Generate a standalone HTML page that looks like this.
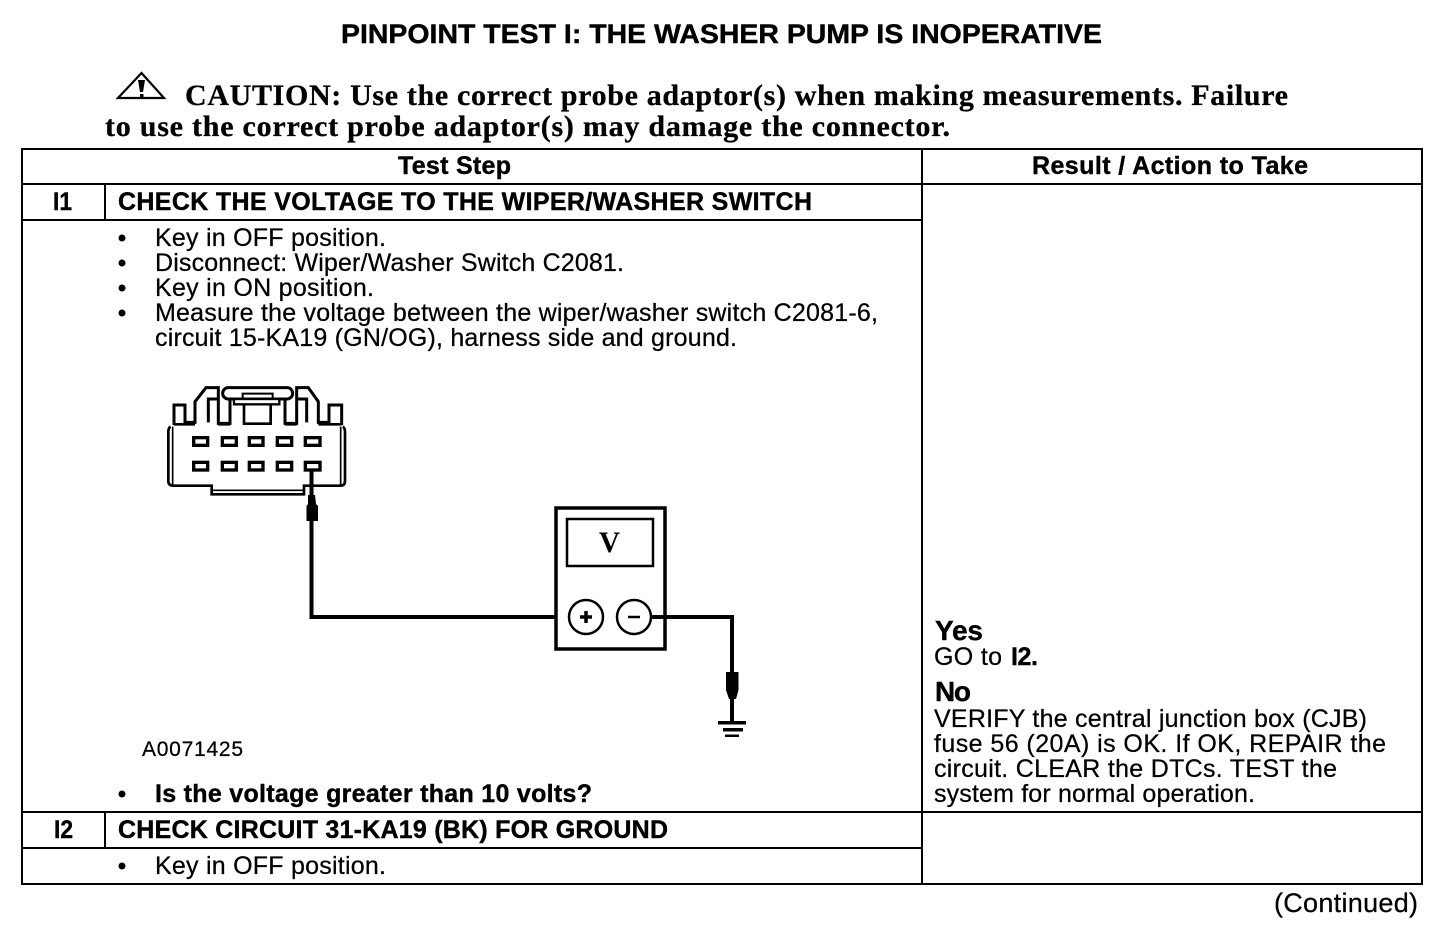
<!DOCTYPE html>
<html><head><meta charset="utf-8"><style>
html,body{margin:0;padding:0;background:#fff}
svg{display:block}
text{font-family:"Liberation Sans",sans-serif;font-size:25px;fill:#000;stroke:#000;stroke-width:.25px}
.b{font-weight:bold;stroke-width:.4px}
.s{font-family:"Liberation Serif",serif;font-weight:bold;font-size:30px;stroke-width:.3px}
</style></head><body>
<svg width="1456" height="936" viewBox="0 0 1456 936" xmlns="http://www.w3.org/2000/svg">
<rect width="1456" height="936" fill="#fff"/>
<text class="b" x="341" y="43" style="font-size:27px" textLength="761" lengthAdjust="spacingAndGlyphs">PINPOINT TEST I: THE WASHER PUMP IS INOPERATIVE</text>
<g fill="none" stroke="#000" stroke-width="2.200"><path d="M118 98L141.500 73L164 98Z"/></g>
<path d="M138 80H145L143 92H140ZM140 94h3.500v4.500H140Z" fill="#000"/>
<text class="s" x="185" y="105" textLength="1103" lengthAdjust="spacing">CAUTION: Use the correct probe adaptor(s) when making measurements. Failure</text>
<text class="s" x="105" y="136" textLength="845" lengthAdjust="spacing">to use the correct probe adaptor(s) may damage the connector.</text>

<g stroke="#000" stroke-width="2" fill="none" shape-rendering="crispEdges">
<rect x="22" y="149" width="1400" height="735"/>
<path d="M922 149V884M22 184H1422M22 220H922M22 812H1422M22 848H922M105 184V220M105 812V848"/>
</g>

<text x="398" y="174" class="b" textLength="113" lengthAdjust="spacing">Test Step</text>
<text x="1032" y="174" class="b" textLength="276" lengthAdjust="spacing">Result / Action to Take</text>
<text x="53" y="210" class="b" textLength="19" lengthAdjust="spacingAndGlyphs">I1</text>
<text x="118" y="210" class="b" textLength="694" lengthAdjust="spacing">CHECK THE VOLTAGE TO THE WIPER/WASHER SWITCH</text>

<g fill="#000">
<circle cx="122" cy="238" r="3.500"/><circle cx="122" cy="263" r="3.500"/><circle cx="122" cy="288" r="3.500"/><circle cx="122" cy="313" r="3.500"/><circle cx="122" cy="794" r="3.500"/><circle cx="122" cy="866" r="3.500"/>
</g>
<text x="155" y="246" textLength="231" lengthAdjust="spacing">Key in OFF position.</text>
<text x="155" y="271" textLength="469" lengthAdjust="spacing">Disconnect: Wiper/Washer Switch C2081.</text>
<text x="155" y="296" textLength="219" lengthAdjust="spacing">Key in ON position.</text>
<text x="155" y="321" textLength="723" lengthAdjust="spacing">Measure the voltage between the wiper/washer switch C2081-6,</text>
<text x="155" y="346" textLength="582" lengthAdjust="spacing">circuit 15-KA19 (GN/OG), harness side and ground.</text>

<g transform="translate(150 375) scale(.33333)" fill="none" stroke="#000" stroke-width="9" stroke-linejoin="miter">
<path d="M72 150V90H105V142H135V80L168 38H205V145H240V72M175 142V72H205"/>
<rect x="218" y="38" width="210" height="34" rx="17"/>
<rect x="252" y="72" width="136" height="16" fill="#fff" stroke-width="7"/>
<path d="M278 72V56H368V72" stroke-width="6"/>
<path d="M282 88V146H362V88" stroke-width="8"/>
<path d="M405 72V145H440V38H475L505 80V142H537V90H575V150M440 72H470V142"/>
<path d="M72 148H135M205 148H240M405 148H440M505 148H575" stroke-width="8"/>
<path d="M62 155Q55 158 55 170V318Q55 332 70 332H185V358H462V332H572Q585 332 585 318V170Q585 158 578 155" stroke-width="8"/>
<path d="M68 155V330M572 155V330M188 346H460" stroke-width="5"/>
<g stroke-width="10">
<rect x="131" y="188" width="42" height="23"/><rect x="217" y="188" width="42" height="23"/><rect x="298" y="188" width="41" height="23"/><rect x="382" y="188" width="43" height="23"/><rect x="466" y="188" width="44" height="23"/>
<rect x="131" y="262" width="42" height="23"/><rect x="217" y="262" width="42" height="23"/><rect x="298" y="262" width="41" height="23"/><rect x="382" y="262" width="43" height="23"/><rect x="466" y="262" width="44" height="23"/>
</g>
</g>
<path d="M311.500 470V617H556" fill="none" stroke="#000" stroke-width="4"/>
<path d="M308 495H315L316 504L318 506V521H306.500V506L308 504Z" fill="#000"/>

<g fill="none" stroke="#000">
<rect x="556" y="508" width="109" height="141" stroke-width="3.500"/>
<rect x="567" y="519" width="86" height="47" stroke-width="2.500"/>
<circle cx="586" cy="617" r="17" stroke-width="2.500" fill="#fff"/>
<circle cx="634" cy="617" r="17" stroke-width="2.500" fill="#fff"/>
<path d="M651 617H732V722" stroke-width="4"/>
<path d="M580 617H592M586 611V623" stroke-width="3.500"/>
<path d="M628 617H640" stroke-width="2.500"/>
</g>
<path d="M726 672H738.500V690L736 699H729L726 690Z" fill="#000"/>
<path d="M718 721H746V724.500H718ZM723 728H743V731.500H723ZM725 734.500H739V737H725Z" fill="#000"/>
<text x="599" y="552" style="font-family:'Liberation Serif',serif;font-weight:bold;font-size:30px;stroke-width:0" textLength="21" lengthAdjust="spacingAndGlyphs">V</text>

<text x="142" y="756" style="font-size:21px" textLength="101" lengthAdjust="spacing">A0071425</text>
<text x="155" y="802" class="b" textLength="437" lengthAdjust="spacing">Is the voltage greater than 10 volts?</text>

<text x="935" y="640" class="b" style="font-size:28px" textLength="48" lengthAdjust="spacing">Yes</text>
<text x="934" y="665" textLength="68" lengthAdjust="spacing">GO to</text>
<text x="1011" y="665" class="b" textLength="27" lengthAdjust="spacing">I2.</text>
<text x="935" y="701" class="b" style="font-size:28px" textLength="36" lengthAdjust="spacing">No</text>
<text x="934" y="727" textLength="433" lengthAdjust="spacing">VERIFY the central junction box (CJB)</text>
<text x="934" y="752" textLength="452" lengthAdjust="spacing">fuse 56 (20A) is OK. If OK, REPAIR the</text>
<text x="934" y="777" textLength="403" lengthAdjust="spacing">circuit. CLEAR the DTCs. TEST the</text>
<text x="934" y="802" textLength="321" lengthAdjust="spacing">system for normal operation.</text>

<text x="54" y="838" class="b" textLength="19" lengthAdjust="spacingAndGlyphs">I2</text>
<text x="118" y="838" class="b" textLength="550" lengthAdjust="spacing">CHECK CIRCUIT 31-KA19 (BK) FOR GROUND</text>
<text x="155" y="874" textLength="231" lengthAdjust="spacing">Key in OFF position.</text>
<text x="1274" y="912" style="font-size:27px" textLength="144" lengthAdjust="spacing">(Continued)</text>
</svg>
</body></html>
